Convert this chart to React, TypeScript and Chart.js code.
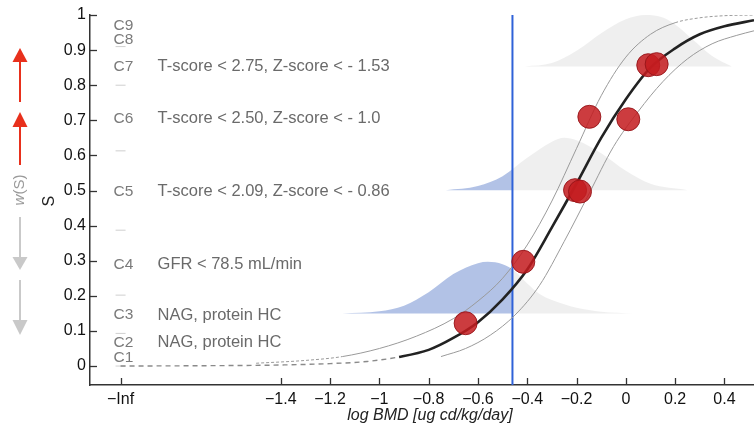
import React, { useEffect, useRef } from "react";
import { Chart, registerables } from "chart.js";

Chart.register(...registerables);

// ---------- data ----------
const xTickValues = [-2.05, -1.4, -1.2, -1.0, -0.8, -0.6, -0.4, -0.2, 0, 0.2, 0.4];
const xTickLabels = ["−Inf", "−1.4", "−1.2", "−1", "−0.8", "−0.6", "−0.4", "−0.2", "0", "0.2", "0.4"];
const yTickValues = [0, 0.1, 0.2, 0.3, 0.4, 0.5, 0.6, 0.7, 0.8, 0.9, 1];
const yTickLabels = ["0", "0.1", "0.2", "0.3", "0.4", "0.5", "0.6", "0.7", "0.8", "0.9", "1"];

const bmdThreshold = -0.46;

// observed points
const pointX = [0.091, 0.125, -0.148, 0.01, -0.206, -0.186, -0.416, -0.65];
const pointS = [0.857, 0.86, 0.71, 0.703, 0.501, 0.497, 0.297, 0.122];

// central fitted curve
const fitX = [-2.05, -1.7, -1.4, -1.2, -1.05, -0.92, -0.8, -0.7, -0.6, -0.5, -0.4, -0.3, -0.2, -0.1, 0.0, 0.1, 0.2, 0.3, 0.4, 0.52];
const fitS = [0.0, 0.001, 0.003, 0.007, 0.013, 0.026, 0.046, 0.08, 0.125, 0.19, 0.275, 0.395, 0.52, 0.65, 0.76, 0.85, 0.905, 0.945, 0.968, 0.985];
const fitDashedBelow = -0.92;

// upper (left) credible bound
const upperX = [-1.5, -1.3, -1.15, -1.0, -0.85, -0.7, -0.6, -0.5, -0.4, -0.3, -0.2, -0.1, 0.0, 0.1, 0.2, 0.3, 0.4, 0.52];
const upperS = [0.008, 0.016, 0.027, 0.05, 0.085, 0.135, 0.185, 0.25, 0.345, 0.47, 0.62, 0.77, 0.88, 0.945, 0.978, 0.992, 0.998, 1.0];

// lower (right) credible bound
const lowerX = [-0.75, -0.65, -0.55, -0.45, -0.35, -0.25, -0.15, -0.05, 0.05, 0.15, 0.25, 0.35, 0.45, 0.52];
const lowerS = [0.027, 0.05, 0.088, 0.145, 0.23, 0.355, 0.49, 0.625, 0.725, 0.81, 0.875, 0.918, 0.942, 0.955];

// distributions (baseline + heights)
const topDistBase = 0.853;
const topDistX = [-0.41, -0.3, -0.2, -0.1, 0.0, 0.08, 0.15, 0.2, 0.27, 0.35, 0.43];
const topDistH = [0, 0.01, 0.045, 0.095, 0.135, 0.147, 0.14, 0.12, 0.078, 0.03, 0];

const midDistBase = 0.501;
const midDistX = [-0.73, -0.6, -0.5, -0.4, -0.3, -0.25, -0.2, -0.1, 0.0, 0.1, 0.25];
const midDistH = [0, 0.012, 0.04, 0.092, 0.138, 0.149, 0.142, 0.105, 0.055, 0.018, 0];

const lowDistBase = 0.15;
const lowDistX = [-1.15, -1.0, -0.9, -0.8, -0.7, -0.6, -0.56, -0.5, -0.45, -0.4, -0.35, -0.3, -0.2, -0.1, 0.03];
const lowDistH = [0, 0.006, 0.022, 0.06, 0.112, 0.143, 0.147, 0.14, 0.12, 0.085, 0.055, 0.038, 0.016, 0.005, 0];

// category labels
const catNames = ["C9", "C8", "C7", "C6", "C5", "C4", "C3", "C2", "C1"];
const catLevels = [0.97, 0.93, 0.853, 0.704, 0.497, 0.29, 0.145, 0.066, 0.025];
const catTexts = ["", "", "T-score < 2.75, Z-score < - 1.53", "T-score < 2.50, Z-score < - 1.0", "T-score < 2.09, Z-score < - 0.86", "GFR < 78.5 mL/min", "NAG, protein HC", "NAG, protein HC", ""];
const sepLevels = [0.91, 0.8, 0.613, 0.387, 0.202, 0.093, 0];

const FONT = '"Liberation Sans", Arial, Helvetica, sans-serif';
const BLUE = "rgb(178,194,230)";
const GRAY = "rgb(239,239,239)";

const pts = (xs: number[], ys: number[], base = 0) => xs.map((x, i) => ({ x, y: base + ys[i] }));

const splitFill = (c: any) => {
  const chart = c.chart;
  const a = chart.chartArea;
  if (!a) return GRAY;
  const px = chart.scales.x.getPixelForValue(bmdThreshold);
  const t = Math.min(1, Math.max(0, (px - a.left) / (a.right - a.left)));
  const g = chart.ctx.createLinearGradient(a.left, 0, a.right, 0);
  g.addColorStop(0, BLUE);
  g.addColorStop(t, BLUE);
  g.addColorStop(t, GRAY);
  g.addColorStop(1, GRAY);
  return g;
};

const drawArrow = (ctx: CanvasRenderingContext2D, x: number, tail: number, base: number, tip: number, color: string) => {
  ctx.strokeStyle = color;
  ctx.fillStyle = color;
  ctx.lineWidth = 2;
  ctx.beginPath();
  ctx.moveTo(x, tail);
  ctx.lineTo(x, base);
  ctx.stroke();
  ctx.beginPath();
  ctx.moveTo(x - 7.5, base);
  ctx.lineTo(x + 7.5, base);
  ctx.lineTo(x, tip);
  ctx.closePath();
  ctx.fill();
};

const decorPlugin = {
  id: "decor",
  afterDraw(chart: any) {
    const { ctx, chartArea: a, scales } = chart;
    const xs = scales.x;
    const ys = scales.y;
    ctx.save();
    // inward tick marks
    ctx.strokeStyle = "#333";
    ctx.lineWidth = 1.3;
    xTickValues.forEach((v) => {
      const p = Math.round(xs.getPixelForValue(v)) + 0.5;
      ctx.beginPath();
      ctx.moveTo(p, a.bottom);
      ctx.lineTo(p, a.bottom - 7);
      ctx.stroke();
    });
    yTickValues.forEach((v) => {
      const p = Math.round(ys.getPixelForValue(v)) + 0.5;
      ctx.beginPath();
      ctx.moveTo(a.left, p);
      ctx.lineTo(a.left + 7, p);
      ctx.stroke();
    });
    // axis titles
    ctx.fillStyle = "#222";
    ctx.font = `italic 16px ${FONT}`;
    ctx.textAlign = "center";
    ctx.textBaseline = "middle";
    ctx.fillText("log BMD [ug cd/kg/day]", 430, 416);
    ctx.save();
    ctx.font = `16px ${FONT}`;
    ctx.translate(50, ys.getPixelForValue(0.47));
    ctx.rotate(-Math.PI / 2);
    ctx.fillText("S", 0, 0);
    ctx.restore();
    // category labels
    const infPx = xs.getPixelForValue(xTickValues[0]);
    ctx.textAlign = "left";
    catNames.forEach((n, i) => {
      const py = ys.getPixelForValue(catLevels[i]);
      ctx.font = `15.5px ${FONT}`;
      ctx.fillStyle = "#7a7a7a";
      ctx.fillText(n, infPx - 7, py);
      if (catTexts[i]) {
        ctx.font = `16.5px ${FONT}`;
        ctx.fillStyle = "#6a6a6a";
        ctx.fillText(catTexts[i], infPx + 37, py);
      }
    });
    // w(S) arrows
    drawArrow(ctx, 20, 102, 62, 48, "#e8301c");
    drawArrow(ctx, 20, 165, 127, 112, "#e8301c");
    drawArrow(ctx, 20, 217, 257, 270, "#c9c9c9");
    drawArrow(ctx, 20, 280, 320, 335, "#c9c9c9");
    ctx.save();
    ctx.translate(20, 190);
    ctx.rotate(-Math.PI / 2);
    ctx.fillStyle = "#9a9a9a";
    ctx.textAlign = "left";
    ctx.font = `italic 15px ${FONT}`;
    const wW = ctx.measureText("w").width;
    ctx.font = `15px ${FONT}`;
    const rW = ctx.measureText("(S)").width;
    const start = -(wW + rW) / 2;
    ctx.font = `italic 15px ${FONT}`;
    ctx.fillText("w", start, 0);
    ctx.font = `15px ${FONT}`;
    ctx.fillText("(S)", start + wW, 0);
    ctx.restore();
    ctx.restore();
  },
};

export default function App() {
  const ref = useRef<HTMLCanvasElement | null>(null);
  useEffect(() => {
    if (!ref.current) return;
    Chart.defaults.font.family = FONT;
    const distDataset = (xsArr: number[], hs: number[], base: number) => ({
      type: "line" as const,
      data: pts(xsArr, hs, base),
      showLine: true,
      pointRadius: 0,
      borderWidth: 0,
      borderColor: "rgba(0,0,0,0)",
      backgroundColor: splitFill,
      fill: { value: base },
      cubicInterpolationMode: "monotone" as const,
      order: 5,
    });
    const chart = new Chart(ref.current, {
      type: "scatter",
      data: {
        datasets: [
          {
            type: "scatter",
            data: pts(pointX, pointS),
            pointRadius: 11.5,
            pointHoverRadius: 11.5,
            backgroundColor: "rgba(196,28,32,0.86)",
            borderColor: "rgba(150,20,24,0.9)",
            borderWidth: 1,
            order: 0,
          },
          {
            type: "line",
            data: pts(fitX, fitS),
            showLine: true,
            pointRadius: 0,
            borderColor: "#222",
            borderWidth: 2.6,
            fill: false,
            cubicInterpolationMode: "monotone",
            segment: {
              borderDash: (c: any) => (c.p1.parsed.x <= fitDashedBelow + 1e-9 ? [5, 4] : undefined),
              borderColor: (c: any) => (c.p1.parsed.x <= fitDashedBelow + 1e-9 ? "#8a8a8a" : undefined),
              borderWidth: (c: any) => (c.p1.parsed.x <= fitDashedBelow + 1e-9 ? 1.4 : undefined),
            },
            order: 1,
          },
          {
            type: "line",
            data: pts(upperX, upperS),
            showLine: true,
            pointRadius: 0,
            borderColor: "#9a9a9a",
            borderWidth: 1,
            fill: false,
            cubicInterpolationMode: "monotone",
            segment: {
              borderDash: (c: any) => (c.p1.parsed.x <= -1.15 || c.p0.parsed.x >= 0.2 ? [3, 2] : undefined),
            },
            order: 2,
          },
          {
            type: "line",
            data: pts(lowerX, lowerS),
            showLine: true,
            pointRadius: 0,
            borderColor: "#9a9a9a",
            borderWidth: 1,
            fill: false,
            cubicInterpolationMode: "monotone",
            order: 2,
          },
          {
            type: "line",
            data: [
              { x: bmdThreshold, y: -0.06 },
              { x: bmdThreshold, y: 1 },
            ],
            showLine: true,
            pointRadius: 0,
            borderColor: "#2f62d8",
            borderWidth: 2,
            fill: false,
            order: 3,
          },
          {
            type: "scatter",
            data: sepLevels.map((s) => ({ x: xTickValues[0], y: s })),
            pointStyle: "line",
            pointRadius: 5,
            borderColor: "#cfcfcf",
            borderWidth: 1,
            order: 4,
          },
          distDataset(topDistX, topDistH, topDistBase),
          distDataset(midDistX, midDistH, midDistBase),
          distDataset(lowDistX, lowDistH, lowDistBase),
        ] as any,
      },
      options: {
        responsive: false,
        animation: false,
        events: [],
        layout: { padding: { top: 15, left: 0, right: 0, bottom: 0 }, autoPadding: false },
        plugins: { legend: { display: false }, tooltip: { enabled: false } },
        scales: {
          x: {
            type: "linear",
            min: -2.174,
            max: 0.52,
            afterBuildTicks: (s: any) => {
              s.ticks = xTickValues.map((v) => ({ value: v }));
            },
            afterFit: (s: any) => {
              s.height = 47;
              s.paddingLeft = 0;
              s.paddingRight = 0;
            },
            ticks: {
              autoSkip: false,
              maxRotation: 0,
              padding: 5,
              color: "#111",
              font: { size: 16 },
              callback: (v: any) => xTickLabels[xTickValues.indexOf(Number(v))] ?? "",
            },
            grid: { display: false, drawTicks: false },
            border: { display: true, color: "#333", width: 1.5 },
          },
          y: {
            type: "linear",
            min: -0.054,
            max: 1,
            afterBuildTicks: (s: any) => {
              s.ticks = yTickValues.map((v) => ({ value: v }));
            },
            afterFit: (s: any) => {
              s.width = 90;
              s.paddingTop = 0;
              s.paddingBottom = 0;
            },
            ticks: {
              padding: 4,
              color: "#111",
              font: { size: 16 },
              callback: (v: any) => yTickLabels[yTickValues.findIndex((t) => Math.abs(t - Number(v)) < 1e-9)] ?? "",
            },
            grid: { display: false, drawTicks: false },
            border: { display: true, color: "#333", width: 1.5 },
          },
        },
      },
      plugins: [decorPlugin],
    });
    return () => chart.destroy();
  }, []);
  return (
    <canvas
      ref={ref}
      width={754}
      height={432}
      style={{ position: "fixed", left: 0, top: 0, width: 754, height: 432, background: "#fff" }}
    />
  );
}
